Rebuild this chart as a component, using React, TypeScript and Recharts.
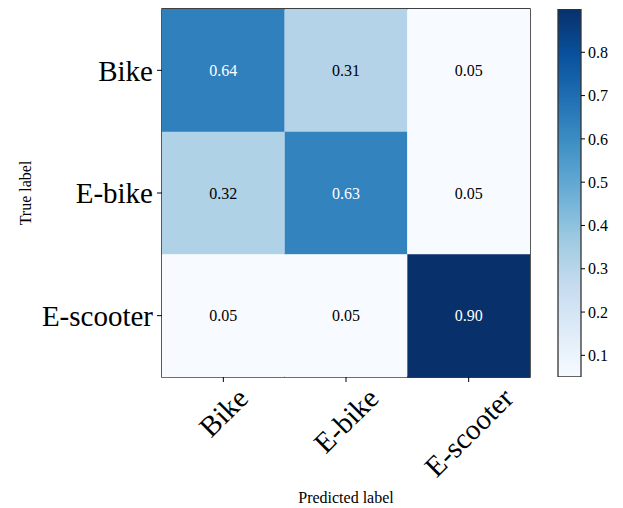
import React from 'react';
import { BarChart, Bar, XAxis, YAxis, Cell, LabelList, Label, ReferenceArea } from 'recharts';

const trueLabels = ['Bike', 'E-bike', 'E-scooter'];
const predictedLabels = ['Bike', 'E-bike', 'E-scooter'];
const bikeRow = [0.64, 0.31, 0.05];
const ebikeRow = [0.32, 0.63, 0.05];
const escooterRow = [0.05, 0.05, 0.9];
const matrix = [bikeRow, ebikeRow, escooterRow];
const colorbarTicks = [0.1, 0.2, 0.3, 0.4, 0.5, 0.6, 0.7, 0.8];

// matplotlib "Blues"
const blues = ['#f7fbff', '#deebf7', '#c6dbef', '#9ecae1', '#6baed6', '#4292c6', '#2171b5', '#08519c', '#08306b'];

const allValues = matrix.flat();
const vmin = Math.min(...allValues);
const vmax = Math.max(...allValues);
const thresh = vmax / 2;

const hex = (h: string) => [1, 3, 5].map(i => parseInt(h.slice(i, i + 2), 16));
const blueColor = (v: number) => {
  const t = Math.max(0, Math.min(1, (v - vmin) / (vmax - vmin))) * (blues.length - 1);
  const i = Math.min(Math.floor(t), blues.length - 2);
  const f = t - i;
  const a = hex(blues[i]);
  const b = hex(blues[i + 1]);
  const c = a.map((x, k) => Math.round(x + (b[k] - x) * f));
  return `rgb(${c[0]},${c[1]},${c[2]})`;
};

// each cell is one unit wide on the x axis, stacked per row
const rows = trueLabels.map((name, r) => ({
  name,
  c0: 1, c1: 1, c2: 1,
  v0: matrix[r][0], v1: matrix[r][1], v2: matrix[r][2],
}));

const FONT = '"Liberation Serif", "Times New Roman", serif';

let ctx: CanvasRenderingContext2D | null = null;
const measure = (s: string, size: number) => {
  if (!ctx) ctx = document.createElement('canvas').getContext('2d');
  if (!ctx) return s.length * size * 0.45;
  ctx.font = `${size}px ${FONT}`;
  return ctx.measureText(s).width;
};

const XTick = (props: any) => {
  const { x, y, payload } = props;
  const label = predictedLabels[Math.floor(payload.value)];
  const size = 29;
  const w = measure(label, size);
  const h = size * 0.68;
  const cy = y + (w + h) / (2 * Math.SQRT2);
  return (
    <text x={x} y={cy} textAnchor="middle" dominantBaseline="central" fontSize={size} fill="#000" fontFamily={FONT}
      transform={`rotate(-45, ${x}, ${cy})`}>
      {label}
    </text>
  );
};

const cellLabel = (props: any) => {
  const { x, y, width, height, value } = props;
  return (
    <text x={x + width / 2} y={y + height / 2} textAnchor="middle" dominantBaseline="central" fontSize={16}
      fontFamily={FONT} fill={value > thresh ? '#fff' : '#000'}>
      {value.toFixed(2)}
    </text>
  );
};

const cbData = [{ name: 'cb', range: [vmin, vmax] }];

export default function App() {
  return (
    <div style={{ position: 'relative', width: 623, height: 508, background: '#fff', fontFamily: FONT }}>
      <style>{'body{margin:0} svg text{font-family:"Liberation Serif","Times New Roman",serif}'}</style>
      <div style={{ position: 'absolute', left: 0, top: 0 }}>
        <BarChart width={540} height={508} data={rows} layout="vertical" barCategoryGap={0}
          margin={{ top: 9, right: 10, bottom: 0, left: 0 }}>
          <XAxis type="number" domain={[0, 3]} ticks={[0.5, 1.5, 2.5]} height={131} tickSize={5} tickMargin={4}
            axisLine={false} tickLine={{ stroke: '#000' }} tick={<XTick />} interval={0}>
            <Label content={(p: any) => {
              const vb = p.viewBox;
              return <text x={vb.x + vb.width / 2} y={vb.y + 126} textAnchor="middle" fontSize={16} fill="#000"
                fontFamily={FONT}>Predicted label</text>;
            }} />
          </XAxis>
          <YAxis type="category" dataKey="name" width={162} tickSize={5} tickMargin={4} axisLine={false}
            tickLine={{ stroke: '#000' }} tick={{ fontSize: 29, fill: '#000', fontFamily: FONT }} interval={0}>
            <Label content={(p: any) => {
              const vb = p.viewBox;
              const cx = 25;
              const cy = vb.y + vb.height / 2;
              return <text x={cx} y={cy} textAnchor="middle" dominantBaseline="central" fontSize={16} fill="#000"
                fontFamily={FONT} transform={`rotate(-90, ${cx}, ${cy})`}>True label</text>;
            }} />
          </YAxis>
          {[0, 1, 2].map(j => (
            <Bar key={j} dataKey={`c${j}`} stackId="m" isAnimationActive={false}>
              {rows.map((r, i) => <Cell key={i} fill={blueColor(matrix[i][j])} />)}
              <LabelList dataKey={`v${j}`} content={cellLabel} />
            </Bar>
          ))}
          <ReferenceArea x1={0} x2={3} fill="none" stroke="#000" strokeWidth={1.3} ifOverflow="visible" />
        </BarChart>
      </div>
      <div style={{ position: 'absolute', left: 540, top: 0 }}>
        <BarChart width={83} height={508} data={cbData} barCategoryGap={0}
          margin={{ top: 9, right: 0, bottom: 131, left: 18 }}>
          <defs>
            <linearGradient id="bluesGrad" x1="0" y1="1" x2="0" y2="0">
              {blues.map((c, i) => <stop key={i} offset={`${(i / (blues.length - 1)) * 100}%`} stopColor={c} />)}
            </linearGradient>
          </defs>
          <XAxis dataKey="name" hide />
          <YAxis orientation="right" type="number" domain={[vmin, vmax]} ticks={colorbarTicks} width={42}
            allowDataOverflow axisLine={false} tickSize={4} tickMargin={3} tickLine={{ stroke: '#000' }}
            tick={{ fontSize: 16, fill: '#000', textAnchor: 'start', fontFamily: FONT }}
            tickFormatter={(v: number) => v.toFixed(1)} />
          <Bar dataKey="range" fill="url(#bluesGrad)" stroke="#333" strokeWidth={1.3} isAnimationActive={false} />
        </BarChart>
      </div>
    </div>
  );
}
